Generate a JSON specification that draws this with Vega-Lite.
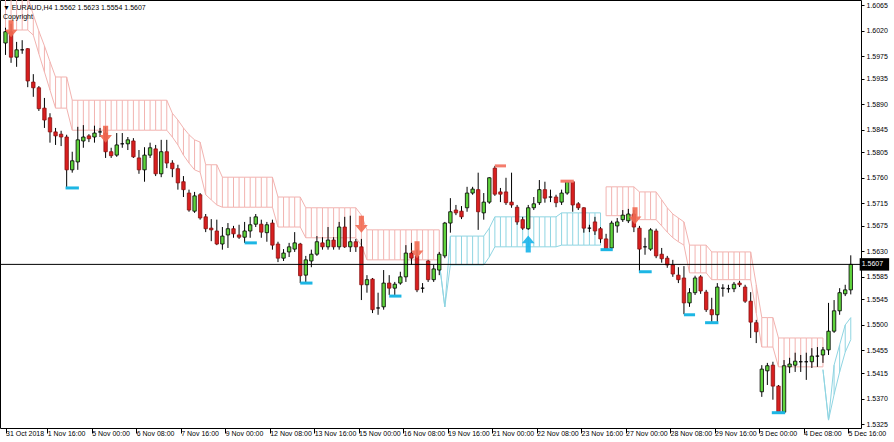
{
"$schema": "https://vega.github.io/schema/vega-lite/v6.json",
"width": 861, "height": 428,
"autosize": "none",
"padding": {"left": 0, "top": 0, "right": 33, "bottom": 14},
"background": "white",
"title": {"text": "▼ EURAUD,H4  1.5562 1.5623 1.5554 1.5607", "subtitle": "Copyright", "anchor": "start", "frame": "group", "offset": -20, "dx": 3, "font": "Liberation Sans", "fontSize": 7, "fontWeight": "normal", "color": "#000000", "subtitleFont": "Liberation Sans", "subtitleFontSize": 7, "subtitleColor": "#000000", "subtitlePadding": 2},
"config": {
  "view": {"stroke": "#000000", "strokeWidth": 1},
  "axis": {"labelFont": "Liberation Sans", "labelFontSize": 7, "labelColor": "#000000", "tickColor": "#000000", "domain": false, "grid": false, "labelOverlap": false, "labelFlush": false}
},
"datasets": {
"candles": [
{"i":0,"open":1.5998,"high":1.6025,"low":1.5977,"close":1.6018},
{"i":1,"open":1.6018,"high":1.6032,"low":1.5963,"close":1.5973},
{"i":2,"open":1.5973,"high":1.6000,"low":1.5956,"close":1.5986},
{"i":3,"open":1.5986,"high":1.6003,"low":1.5979,"close":1.5986},
{"i":4,"open":1.5988,"high":1.5989,"low":1.5920,"close":1.5931},
{"i":5,"open":1.5929,"high":1.5943,"low":1.5903,"close":1.5919},
{"i":6,"open":1.5919,"high":1.5922,"low":1.5878,"close":1.5882},
{"i":7,"open":1.5883,"high":1.5901,"low":1.5848,"close":1.5862},
{"i":8,"open":1.5866,"high":1.5874,"low":1.5822,"close":1.5841},
{"i":9,"open":1.5841,"high":1.5848,"low":1.5818,"close":1.5834},
{"i":10,"open":1.5837,"high":1.5843,"low":1.5816,"close":1.5832},
{"i":11,"open":1.5832,"high":1.5836,"low":1.5742,"close":1.5774},
{"i":12,"open":1.5774,"high":1.5806,"low":1.5769,"close":1.5790},
{"i":13,"open":1.5788,"high":1.5850,"low":1.5774,"close":1.5827},
{"i":14,"open":1.5825,"high":1.5853,"low":1.5813,"close":1.5832},
{"i":15,"open":1.5834,"high":1.5837,"low":1.5823,"close":1.5829},
{"i":16,"open":1.5832,"high":1.5852,"low":1.5822,"close":1.5839},
{"i":17,"open":1.5841,"high":1.5848,"low":1.5832,"close":1.5841},
{"i":18,"open":1.5839,"high":1.5850,"low":1.5795,"close":1.5806},
{"i":19,"open":1.5806,"high":1.5813,"low":1.5795,"close":1.5799},
{"i":20,"open":1.5800,"high":1.5839,"low":1.5797,"close":1.5818},
{"i":21,"open":1.5820,"high":1.5839,"low":1.5813,"close":1.5820},
{"i":22,"open":1.5820,"high":1.5832,"low":1.5809,"close":1.5827},
{"i":23,"open":1.5825,"high":1.5830,"low":1.5795,"close":1.5797},
{"i":24,"open":1.5795,"high":1.5809,"low":1.5767,"close":1.5774},
{"i":25,"open":1.5774,"high":1.5814,"low":1.5753,"close":1.5800},
{"i":26,"open":1.5800,"high":1.5822,"low":1.5795,"close":1.5813},
{"i":27,"open":1.5811,"high":1.5818,"low":1.5763,"close":1.5767},
{"i":28,"open":1.5767,"high":1.5827,"low":1.5761,"close":1.5806},
{"i":29,"open":1.5806,"high":1.5827,"low":1.5777,"close":1.5786},
{"i":30,"open":1.5786,"high":1.5791,"low":1.5761,"close":1.5776},
{"i":31,"open":1.5776,"high":1.5783,"low":1.5739,"close":1.5751},
{"i":32,"open":1.5753,"high":1.5763,"low":1.5726,"close":1.5739},
{"i":33,"open":1.5733,"high":1.5739,"low":1.5700,"close":1.5703},
{"i":34,"open":1.5701,"high":1.5735,"low":1.5698,"close":1.5728},
{"i":35,"open":1.5730,"high":1.5733,"low":1.5686,"close":1.5689},
{"i":36,"open":1.5691,"high":1.5696,"low":1.5664,"close":1.5670},
{"i":37,"open":1.5671,"high":1.5687,"low":1.5648,"close":1.5668},
{"i":38,"open":1.5666,"high":1.5686,"low":1.5641,"close":1.5643},
{"i":39,"open":1.5643,"high":1.5673,"low":1.5633,"close":1.5657},
{"i":40,"open":1.5659,"high":1.5680,"low":1.5636,"close":1.5670},
{"i":41,"open":1.5670,"high":1.5675,"low":1.5654,"close":1.5661},
{"i":42,"open":1.5659,"high":1.5677,"low":1.5652,"close":1.5655},
{"i":43,"open":1.5655,"high":1.5682,"low":1.5645,"close":1.5666},
{"i":44,"open":1.5666,"high":1.5691,"low":1.5654,"close":1.5677},
{"i":45,"open":1.5678,"high":1.5696,"low":1.5673,"close":1.5691},
{"i":46,"open":1.5678,"high":1.5686,"low":1.5654,"close":1.5664},
{"i":47,"open":1.5663,"high":1.5682,"low":1.5647,"close":1.5677},
{"i":48,"open":1.5680,"high":1.5686,"low":1.5633,"close":1.5641},
{"i":49,"open":1.5643,"high":1.5647,"low":1.5611,"close":1.5618},
{"i":50,"open":1.5618,"high":1.5634,"low":1.5613,"close":1.5627},
{"i":51,"open":1.5629,"high":1.5645,"low":1.5620,"close":1.5638},
{"i":52,"open":1.5634,"high":1.5664,"low":1.5629,"close":1.5645},
{"i":53,"open":1.5643,"high":1.5645,"low":1.5574,"close":1.5587},
{"i":54,"open":1.5588,"high":1.5622,"low":1.5574,"close":1.5615},
{"i":55,"open":1.5613,"high":1.5633,"low":1.5602,"close":1.5625},
{"i":56,"open":1.5625,"high":1.5657,"low":1.5622,"close":1.5647},
{"i":57,"open":1.5645,"high":1.5655,"low":1.5633,"close":1.5638},
{"i":58,"open":1.5638,"high":1.5673,"low":1.5633,"close":1.5650},
{"i":59,"open":1.5650,"high":1.5655,"low":1.5633,"close":1.5638},
{"i":60,"open":1.5638,"high":1.5682,"low":1.5633,"close":1.5673},
{"i":61,"open":1.5673,"high":1.5691,"low":1.5636,"close":1.5638},
{"i":62,"open":1.5638,"high":1.5693,"low":1.5629,"close":1.5647},
{"i":63,"open":1.5647,"high":1.5652,"low":1.5629,"close":1.5638},
{"i":64,"open":1.5638,"high":1.5652,"low":1.5544,"close":1.5571},
{"i":65,"open":1.5571,"high":1.5588,"low":1.5557,"close":1.5580},
{"i":66,"open":1.5581,"high":1.5583,"low":1.5521,"close":1.5527},
{"i":67,"open":1.5530,"high":1.5557,"low":1.5518,"close":1.5530},
{"i":68,"open":1.5532,"high":1.5597,"low":1.5527,"close":1.5574},
{"i":69,"open":1.5574,"high":1.5588,"low":1.5553,"close":1.5565},
{"i":70,"open":1.5565,"high":1.5576,"low":1.5553,"close":1.5572},
{"i":71,"open":1.5574,"high":1.5594,"low":1.5571,"close":1.5585},
{"i":72,"open":1.5585,"high":1.5641,"low":1.5576,"close":1.5627},
{"i":73,"open":1.5627,"high":1.5645,"low":1.5606,"close":1.5618},
{"i":74,"open":1.5622,"high":1.5633,"low":1.5558,"close":1.5562},
{"i":75,"open":1.5565,"high":1.5574,"low":1.5557,"close":1.5565},
{"i":76,"open":1.5613,"high":1.5615,"low":1.5576,"close":1.5580},
{"i":77,"open":1.5580,"high":1.5606,"low":1.5576,"close":1.5599},
{"i":78,"open":1.5597,"high":1.5629,"low":1.5588,"close":1.5625},
{"i":79,"open":1.5622,"high":1.5682,"low":1.5618,"close":1.5680},
{"i":80,"open":1.5680,"high":1.5724,"low":1.5663,"close":1.5700},
{"i":81,"open":1.5703,"high":1.5712,"low":1.5694,"close":1.5698},
{"i":82,"open":1.5701,"high":1.5710,"low":1.5687,"close":1.5691},
{"i":83,"open":1.5707,"high":1.5744,"low":1.5700,"close":1.5733},
{"i":84,"open":1.5733,"high":1.5744,"low":1.5730,"close":1.5740},
{"i":85,"open":1.5739,"high":1.5769,"low":1.5668,"close":1.5700},
{"i":86,"open":1.5698,"high":1.5733,"low":1.5686,"close":1.5717},
{"i":87,"open":1.5717,"high":1.5761,"low":1.5714,"close":1.5760},
{"i":88,"open":1.5777,"high":1.5781,"low":1.5728,"close":1.5731},
{"i":89,"open":1.5735,"high":1.5742,"low":1.5717,"close":1.5731},
{"i":90,"open":1.5735,"high":1.5760,"low":1.5712,"close":1.5716},
{"i":91,"open":1.5717,"high":1.5769,"low":1.5707,"close":1.5712},
{"i":92,"open":1.5708,"high":1.5712,"low":1.5677,"close":1.5682},
{"i":93,"open":1.5686,"high":1.5691,"low":1.5668,"close":1.5671},
{"i":94,"open":1.5670,"high":1.5712,"low":1.5668,"close":1.5707},
{"i":95,"open":1.5707,"high":1.5726,"low":1.5703,"close":1.5714},
{"i":96,"open":1.5716,"high":1.5756,"low":1.5712,"close":1.5739},
{"i":97,"open":1.5739,"high":1.5753,"low":1.5716,"close":1.5724},
{"i":98,"open":1.5726,"high":1.5739,"low":1.5717,"close":1.5726},
{"i":99,"open":1.5726,"high":1.5730,"low":1.5708,"close":1.5716},
{"i":100,"open":1.5717,"high":1.5739,"low":1.5712,"close":1.5733},
{"i":101,"open":1.5733,"high":1.5756,"low":1.5730,"close":1.5753},
{"i":102,"open":1.5753,"high":1.5754,"low":1.5700,"close":1.5712},
{"i":103,"open":1.5714,"high":1.5717,"low":1.5703,"close":1.5707},
{"i":104,"open":1.5707,"high":1.5708,"low":1.5663,"close":1.5671},
{"i":105,"open":1.5671,"high":1.5677,"low":1.5664,"close":1.5671},
{"i":106,"open":1.5682,"high":1.5691,"low":1.5659,"close":1.5666},
{"i":107,"open":1.5670,"high":1.5673,"low":1.5645,"close":1.5652},
{"i":108,"open":1.5652,"high":1.5661,"low":1.5633,"close":1.5634},
{"i":109,"open":1.5636,"high":1.5684,"low":1.5633,"close":1.5680},
{"i":110,"open":1.5675,"high":1.5689,"low":1.5663,"close":1.5682},
{"i":111,"open":1.5686,"high":1.5703,"low":1.5682,"close":1.5694},
{"i":112,"open":1.5684,"high":1.5705,"low":1.5680,"close":1.5696},
{"i":113,"open":1.5696,"high":1.5703,"low":1.5664,"close":1.5673},
{"i":114,"open":1.5671,"high":1.5675,"low":1.5595,"close":1.5634},
{"i":115,"open":1.5638,"high":1.5654,"low":1.5624,"close":1.5638},
{"i":116,"open":1.5634,"high":1.5671,"low":1.5631,"close":1.5668},
{"i":117,"open":1.5666,"high":1.5670,"low":1.5618,"close":1.5622},
{"i":118,"open":1.5625,"high":1.5636,"low":1.5610,"close":1.5617},
{"i":119,"open":1.5618,"high":1.5622,"low":1.5601,"close":1.5606},
{"i":120,"open":1.5606,"high":1.5615,"low":1.5585,"close":1.5590},
{"i":121,"open":1.5588,"high":1.5602,"low":1.5574,"close":1.5580},
{"i":122,"open":1.5583,"high":1.5604,"low":1.5519,"close":1.5539},
{"i":123,"open":1.5539,"high":1.5565,"low":1.5532,"close":1.5557},
{"i":124,"open":1.5557,"high":1.5587,"low":1.5553,"close":1.5583},
{"i":125,"open":1.5585,"high":1.5588,"low":1.5555,"close":1.5560},
{"i":126,"open":1.5558,"high":1.5562,"low":1.5523,"close":1.5527},
{"i":127,"open":1.5527,"high":1.5548,"low":1.5505,"close":1.5518},
{"i":128,"open":1.5518,"high":1.5574,"low":1.5505,"close":1.5567},
{"i":129,"open":1.5565,"high":1.5572,"low":1.5550,"close":1.5565},
{"i":130,"open":1.5564,"high":1.5571,"low":1.5557,"close":1.5564},
{"i":131,"open":1.5564,"high":1.5576,"low":1.5558,"close":1.5572},
{"i":132,"open":1.5574,"high":1.5578,"low":1.5567,"close":1.5571},
{"i":133,"open":1.5567,"high":1.5571,"low":1.5539,"close":1.5542},
{"i":134,"open":1.5542,"high":1.5558,"low":1.5477,"close":1.5505},
{"i":135,"open":1.5504,"high":1.5509,"low":1.5468,"close":1.5488},
{"i":136,"open":1.5382,"high":1.5429,"low":1.5373,"close":1.5422},
{"i":137,"open":1.5419,"high":1.5433,"low":1.5394,"close":1.5428},
{"i":138,"open":1.5429,"high":1.5435,"low":1.5368,"close":1.5392},
{"i":139,"open":1.5392,"high":1.5394,"low":1.5345,"close":1.5346},
{"i":140,"open":1.5346,"high":1.5438,"low":1.5345,"close":1.5428},
{"i":141,"open":1.5426,"high":1.5442,"low":1.5415,"close":1.5431},
{"i":142,"open":1.5429,"high":1.5451,"low":1.5417,"close":1.5436},
{"i":143,"open":1.5435,"high":1.5447,"low":1.5417,"close":1.5435},
{"i":144,"open":1.5435,"high":1.5451,"low":1.5403,"close":1.5435},
{"i":145,"open":1.5435,"high":1.5459,"low":1.5424,"close":1.5445},
{"i":146,"open":1.5445,"high":1.5461,"low":1.5426,"close":1.5445},
{"i":147,"open":1.5447,"high":1.5461,"low":1.5433,"close":1.5456},
{"i":148,"open":1.5456,"high":1.5539,"low":1.5447,"close":1.5489},
{"i":149,"open":1.5489,"high":1.5544,"low":1.5486,"close":1.5525},
{"i":150,"open":1.5525,"high":1.5565,"low":1.5518,"close":1.5557},
{"i":151,"open":1.5555,"high":1.5571,"low":1.5551,"close":1.5562},
{"i":152,"open":1.5562,"high":1.5623,"low":1.5554,"close":1.5607}
],
"bands": [
{"i":0,"top":1.6079,"bot":1.6021,"band":"r","seg":"r1"},
{"i":1,"top":1.6079,"bot":1.6021,"band":"r","seg":"r1"},
{"i":2,"top":1.6079,"bot":1.6021,"band":"r","seg":"r1"},
{"i":3,"top":1.6079,"bot":1.6021,"band":"r","seg":"r1"},
{"i":4,"top":1.6079,"bot":1.6021,"band":"r","seg":"r1"},
{"i":5,"top":1.6048,"bot":1.6012,"band":"r","seg":"r1"},
{"i":6,"top":1.6019,"bot":1.5979,"band":"r","seg":"r1"},
{"i":7,"top":1.5993,"bot":1.5947,"band":"r","seg":"r1"},
{"i":8,"top":1.5965,"bot":1.5915,"band":"r","seg":"r1"},
{"i":9,"top":1.5938,"bot":1.5883,"band":"r","seg":"r1"},
{"i":10,"top":1.5938,"bot":1.5883,"band":"r","seg":"r1"},
{"i":11,"top":1.5938,"bot":1.5883,"band":"r","seg":"r1"},
{"i":12,"top":1.5897,"bot":1.5844,"band":"r","seg":"r1"},
{"i":13,"top":1.5897,"bot":1.5844,"band":"r","seg":"r1"},
{"i":14,"top":1.5897,"bot":1.5844,"band":"r","seg":"r1"},
{"i":15,"top":1.5897,"bot":1.5844,"band":"r","seg":"r1"},
{"i":16,"top":1.5897,"bot":1.5844,"band":"r","seg":"r1"},
{"i":17,"top":1.5897,"bot":1.5844,"band":"r","seg":"r1"},
{"i":18,"top":1.5897,"bot":1.5844,"band":"r","seg":"r1"},
{"i":19,"top":1.5897,"bot":1.5844,"band":"r","seg":"r1"},
{"i":20,"top":1.5897,"bot":1.5844,"band":"r","seg":"r1"},
{"i":21,"top":1.5897,"bot":1.5844,"band":"r","seg":"r1"},
{"i":22,"top":1.5897,"bot":1.5844,"band":"r","seg":"r1"},
{"i":23,"top":1.5897,"bot":1.5844,"band":"r","seg":"r1"},
{"i":24,"top":1.5897,"bot":1.5844,"band":"r","seg":"r1"},
{"i":25,"top":1.5897,"bot":1.5844,"band":"r","seg":"r1"},
{"i":26,"top":1.5897,"bot":1.5844,"band":"r","seg":"r1"},
{"i":27,"top":1.5897,"bot":1.5844,"band":"r","seg":"r1"},
{"i":28,"top":1.5897,"bot":1.5844,"band":"r","seg":"r1"},
{"i":29,"top":1.5897,"bot":1.5844,"band":"r","seg":"r1"},
{"i":30,"top":1.5874,"bot":1.5832,"band":"r","seg":"r1"},
{"i":31,"top":1.5862,"bot":1.5818,"band":"r","seg":"r1"},
{"i":32,"top":1.5848,"bot":1.5800,"band":"r","seg":"r1"},
{"i":33,"top":1.5836,"bot":1.5786,"band":"r","seg":"r1"},
{"i":34,"top":1.5827,"bot":1.5774,"band":"r","seg":"r1"},
{"i":35,"top":1.5823,"bot":1.5770,"band":"r","seg":"r1"},
{"i":36,"top":1.5783,"bot":1.5730,"band":"r","seg":"r1"},
{"i":37,"top":1.5783,"bot":1.5721,"band":"r","seg":"r1"},
{"i":38,"top":1.5783,"bot":1.5712,"band":"r","seg":"r1"},
{"i":39,"top":1.5761,"bot":1.5708,"band":"r","seg":"r1"},
{"i":40,"top":1.5761,"bot":1.5708,"band":"r","seg":"r1"},
{"i":41,"top":1.5761,"bot":1.5708,"band":"r","seg":"r1"},
{"i":42,"top":1.5761,"bot":1.5708,"band":"r","seg":"r1"},
{"i":43,"top":1.5761,"bot":1.5708,"band":"r","seg":"r1"},
{"i":44,"top":1.5761,"bot":1.5708,"band":"r","seg":"r1"},
{"i":45,"top":1.5761,"bot":1.5708,"band":"r","seg":"r1"},
{"i":46,"top":1.5761,"bot":1.5708,"band":"r","seg":"r1"},
{"i":47,"top":1.5761,"bot":1.5708,"band":"r","seg":"r1"},
{"i":48,"top":1.5761,"bot":1.5708,"band":"r","seg":"r1"},
{"i":49,"top":1.5726,"bot":1.5673,"band":"r","seg":"r1"},
{"i":50,"top":1.5726,"bot":1.5673,"band":"r","seg":"r1"},
{"i":51,"top":1.5726,"bot":1.5673,"band":"r","seg":"r1"},
{"i":52,"top":1.5726,"bot":1.5673,"band":"r","seg":"r1"},
{"i":53,"top":1.5726,"bot":1.5673,"band":"r","seg":"r1"},
{"i":54,"top":1.5707,"bot":1.5654,"band":"r","seg":"r1"},
{"i":55,"top":1.5707,"bot":1.5654,"band":"r","seg":"r1"},
{"i":56,"top":1.5707,"bot":1.5654,"band":"r","seg":"r1"},
{"i":57,"top":1.5707,"bot":1.5654,"band":"r","seg":"r1"},
{"i":58,"top":1.5707,"bot":1.5654,"band":"r","seg":"r1"},
{"i":59,"top":1.5707,"bot":1.5654,"band":"r","seg":"r1"},
{"i":60,"top":1.5707,"bot":1.5654,"band":"r","seg":"r1"},
{"i":61,"top":1.5707,"bot":1.5654,"band":"r","seg":"r1"},
{"i":62,"top":1.5707,"bot":1.5654,"band":"r","seg":"r1"},
{"i":63,"top":1.5707,"bot":1.5654,"band":"r","seg":"r1"},
{"i":64,"top":1.5694,"bot":1.5641,"band":"r","seg":"r1"},
{"i":65,"top":1.5668,"bot":1.5615,"band":"r","seg":"r1"},
{"i":66,"top":1.5668,"bot":1.5615,"band":"r","seg":"r1"},
{"i":67,"top":1.5668,"bot":1.5615,"band":"r","seg":"r1"},
{"i":68,"top":1.5668,"bot":1.5615,"band":"r","seg":"r1"},
{"i":69,"top":1.5668,"bot":1.5615,"band":"r","seg":"r1"},
{"i":70,"top":1.5668,"bot":1.5615,"band":"r","seg":"r1"},
{"i":71,"top":1.5668,"bot":1.5615,"band":"r","seg":"r1"},
{"i":72,"top":1.5668,"bot":1.5615,"band":"r","seg":"r1"},
{"i":73,"top":1.5668,"bot":1.5615,"band":"r","seg":"r1"},
{"i":74,"top":1.5668,"bot":1.5615,"band":"r","seg":"r1"},
{"i":75,"top":1.5668,"bot":1.5615,"band":"r","seg":"r1"},
{"i":76,"top":1.5668,"bot":1.5615,"band":"r","seg":"r1"},
{"i":77,"top":1.5668,"bot":1.5615,"band":"r","seg":"r1"},
{"i":78,"top":1.5668,"bot":1.5615,"band":"r","seg":"r1"},
{"i":78,"top":1.5611,"bot":1.5611,"band":"b","seg":"b1"},
{"i":79,"top":1.5532,"bot":1.5532,"band":"b","seg":"b1"},
{"i":80,"top":1.5657,"bot":1.5606,"band":"b","seg":"b1"},
{"i":81,"top":1.5657,"bot":1.5606,"band":"b","seg":"b1"},
{"i":82,"top":1.5657,"bot":1.5606,"band":"b","seg":"b1"},
{"i":83,"top":1.5657,"bot":1.5606,"band":"b","seg":"b1"},
{"i":84,"top":1.5657,"bot":1.5606,"band":"b","seg":"b1"},
{"i":85,"top":1.5657,"bot":1.5606,"band":"b","seg":"b1"},
{"i":86,"top":1.5657,"bot":1.5606,"band":"b","seg":"b1"},
{"i":87,"top":1.5671,"bot":1.5620,"band":"b","seg":"b1"},
{"i":88,"top":1.5691,"bot":1.5638,"band":"b","seg":"b1"},
{"i":89,"top":1.5691,"bot":1.5638,"band":"b","seg":"b1"},
{"i":90,"top":1.5691,"bot":1.5638,"band":"b","seg":"b1"},
{"i":91,"top":1.5691,"bot":1.5638,"band":"b","seg":"b1"},
{"i":92,"top":1.5691,"bot":1.5638,"band":"b","seg":"b1"},
{"i":93,"top":1.5691,"bot":1.5638,"band":"b","seg":"b1"},
{"i":94,"top":1.5691,"bot":1.5638,"band":"b","seg":"b1"},
{"i":95,"top":1.5691,"bot":1.5638,"band":"b","seg":"b1"},
{"i":96,"top":1.5691,"bot":1.5638,"band":"b","seg":"b1"},
{"i":97,"top":1.5691,"bot":1.5638,"band":"b","seg":"b1"},
{"i":98,"top":1.5691,"bot":1.5638,"band":"b","seg":"b1"},
{"i":99,"top":1.5691,"bot":1.5638,"band":"b","seg":"b1"},
{"i":100,"top":1.5698,"bot":1.5641,"band":"b","seg":"b1"},
{"i":101,"top":1.5698,"bot":1.5641,"band":"b","seg":"b1"},
{"i":102,"top":1.5698,"bot":1.5641,"band":"b","seg":"b1"},
{"i":103,"top":1.5698,"bot":1.5641,"band":"b","seg":"b1"},
{"i":104,"top":1.5698,"bot":1.5641,"band":"b","seg":"b1"},
{"i":105,"top":1.5698,"bot":1.5641,"band":"b","seg":"b1"},
{"i":106,"top":1.5698,"bot":1.5641,"band":"b","seg":"b1"},
{"i":107,"top":1.5698,"bot":1.5641,"band":"b","seg":"b1"},
{"i":108,"top":1.5744,"bot":1.5693,"band":"r","seg":"r2"},
{"i":109,"top":1.5744,"bot":1.5693,"band":"r","seg":"r2"},
{"i":110,"top":1.5744,"bot":1.5693,"band":"r","seg":"r2"},
{"i":111,"top":1.5744,"bot":1.5693,"band":"r","seg":"r2"},
{"i":112,"top":1.5744,"bot":1.5693,"band":"r","seg":"r2"},
{"i":113,"top":1.5744,"bot":1.5693,"band":"r","seg":"r2"},
{"i":114,"top":1.5735,"bot":1.5686,"band":"r","seg":"r2"},
{"i":115,"top":1.5735,"bot":1.5686,"band":"r","seg":"r2"},
{"i":116,"top":1.5735,"bot":1.5686,"band":"r","seg":"r2"},
{"i":117,"top":1.5735,"bot":1.5686,"band":"r","seg":"r2"},
{"i":118,"top":1.5721,"bot":1.5675,"band":"r","seg":"r2"},
{"i":119,"top":1.5707,"bot":1.5664,"band":"r","seg":"r2"},
{"i":120,"top":1.5696,"bot":1.5654,"band":"r","seg":"r2"},
{"i":121,"top":1.5689,"bot":1.5647,"band":"r","seg":"r2"},
{"i":122,"top":1.5682,"bot":1.5641,"band":"r","seg":"r2"},
{"i":123,"top":1.5641,"bot":1.5592,"band":"r","seg":"r2"},
{"i":124,"top":1.5641,"bot":1.5592,"band":"r","seg":"r2"},
{"i":125,"top":1.5641,"bot":1.5592,"band":"r","seg":"r2"},
{"i":126,"top":1.5641,"bot":1.5592,"band":"r","seg":"r2"},
{"i":127,"top":1.5629,"bot":1.5580,"band":"r","seg":"r2"},
{"i":128,"top":1.5629,"bot":1.5580,"band":"r","seg":"r2"},
{"i":129,"top":1.5629,"bot":1.5580,"band":"r","seg":"r2"},
{"i":130,"top":1.5629,"bot":1.5580,"band":"r","seg":"r2"},
{"i":131,"top":1.5629,"bot":1.5580,"band":"r","seg":"r2"},
{"i":132,"top":1.5629,"bot":1.5580,"band":"r","seg":"r2"},
{"i":133,"top":1.5629,"bot":1.5580,"band":"r","seg":"r2"},
{"i":134,"top":1.5629,"bot":1.5580,"band":"r","seg":"r2"},
{"i":135,"top":1.5571,"bot":1.5521,"band":"r","seg":"r2"},
{"i":136,"top":1.5513,"bot":1.5461,"band":"r","seg":"r2"},
{"i":137,"top":1.5513,"bot":1.5461,"band":"r","seg":"r2"},
{"i":138,"top":1.5513,"bot":1.5461,"band":"r","seg":"r2"},
{"i":139,"top":1.5477,"bot":1.5426,"band":"r","seg":"r2"},
{"i":140,"top":1.5477,"bot":1.5426,"band":"r","seg":"r2"},
{"i":141,"top":1.5477,"bot":1.5426,"band":"r","seg":"r2"},
{"i":142,"top":1.5477,"bot":1.5426,"band":"r","seg":"r2"},
{"i":143,"top":1.5477,"bot":1.5426,"band":"r","seg":"r2"},
{"i":144,"top":1.5477,"bot":1.5426,"band":"r","seg":"r2"},
{"i":145,"top":1.5477,"bot":1.5426,"band":"r","seg":"r2"},
{"i":146,"top":1.5477,"bot":1.5426,"band":"r","seg":"r2"},
{"i":147,"top":1.5477,"bot":1.5426,"band":"r","seg":"r2"},
{"i":147,"top":1.5421,"bot":1.5421,"band":"b","seg":"b2"},
{"i":148,"top":1.5332,"bot":1.5332,"band":"b","seg":"b2"},
{"i":149,"top":1.5429,"bot":1.5377,"band":"b","seg":"b2"},
{"i":150,"top":1.5465,"bot":1.5417,"band":"b","seg":"b2"},
{"i":151,"top":1.5500,"bot":1.5452,"band":"b","seg":"b2"},
{"i":152,"top":1.5513,"bot":1.5474,"band":"b","seg":"b2"}
],
"levels": [
{"i":10.8,"i2":13.2,"p":1.5742,"kind":"support"},
{"i":43,"i2":45.2,"p":1.5645,"kind":"support"},
{"i":53,"i2":55.2,"p":1.5574,"kind":"support"},
{"i":69,"i2":71.2,"p":1.5551,"kind":"support"},
{"i":107,"i2":109.2,"p":1.5633,"kind":"support"},
{"i":113.9,"i2":116.2,"p":1.5594,"kind":"support"},
{"i":122,"i2":124,"p":1.5518,"kind":"support"},
{"i":125.8,"i2":128.2,"p":1.5504,"kind":"support"},
{"i":137.8,"i2":140.2,"p":1.5345,"kind":"support"},
{"i":88,"i2":90,"p":1.5781,"kind":"resistance"},
{"i":99.8,"i2":102.2,"p":1.5754,"kind":"resistance"}
],
"arrows": [
{"i":1,"p":1.6023,"dir":"down"},
{"i":18,"p":1.5837,"dir":"down"},
{"i":64,"p":1.5678,"dir":"down"},
{"i":74,"p":1.5633,"dir":"down"},
{"i":113.2,"p":1.5693,"dir":"down"},
{"i":94,"p":1.5643,"dir":"up"}
]
},
"layer": [
{
 "data": {"name": "bands"},
 "mark": {"type": "rule", "strokeWidth": 1, "clip": true},
 "encoding": {
  "x": {"field": "i", "type": "quantitative", "scale": {"domain": [-0.09, 152.94], "nice": false, "zero": false},
   "axis": {"orient": "bottom", "title": null, "values": [0, 7.5, 15.5, 23.5, 31.5, 39.5, 47.5, 55.5, 63.5, 71.5, 79.5, 87.5, 95.5, 103.5, 111.5, 119.5, 127.5, 135.5, 143.5, 151.5], "tickCount": 40,
    "labelExpr": "['31 Oct 2018','1 Nov 16:00','5 Nov 00:00','6 Nov 08:00','7 Nov 16:00','9 Nov 00:00','12 Nov 08:00','13 Nov 16:00','15 Nov 00:00','16 Nov 08:00','19 Nov 16:00','21 Nov 00:00','22 Nov 08:00','23 Nov 16:00','27 Nov 00:00','28 Nov 08:00','29 Nov 16:00','3 Dec 00:00','4 Dec 08:00','5 Dec 16:00'][floor((datum.value + 1) / 8)]",
    "labelAlign": "left", "labelBaseline": "top", "labelDx": 2, "tickSize": 5, "labelPadding": -4, "labelOverlap": false, "labelBound": false, "labelFlush": false}},
  "y": {"field": "top", "type": "quantitative", "scale": {"domain": [1.5318, 1.6074], "nice": false, "zero": false},
   "axis": {"orient": "right", "title": null, "values": [1.6065, 1.6020, 1.5975, 1.5935, 1.5890, 1.5845, 1.5805, 1.5760, 1.5715, 1.5675, 1.5630, 1.5585, 1.5545, 1.5500, 1.5455, 1.5415, 1.5370, 1.5325], "tickCount": 40, "format": ".4f", "tickSize": 3, "labelPadding": 2, "labelOverlap": false, "labelFlush": false, "labelBound": false}},
  "y2": {"field": "bot"},
  "color": {"condition": {"test": "datum.band == 'r'", "value": "#f2b3b0"}, "value": "#8fd5e2"}
 }
},
{
 "data": {"name": "bands"},
 "mark": {"type": "line", "strokeWidth": 1, "clip": true},
 "encoding": {
  "x": {"field": "i", "type": "quantitative", "scale": {"domain": [-0.09, 152.94], "nice": false, "zero": false}},
  "y": {"field": "top", "type": "quantitative", "scale": {"domain": [1.5318, 1.6074], "nice": false, "zero": false}},
  "detail": {"field": "seg"},
  "color": {"condition": {"test": "datum.band == 'r'", "value": "#f2b3b0"}, "value": "#8fd5e2"}
 }
},
{
 "data": {"name": "bands"},
 "mark": {"type": "line", "strokeWidth": 1, "clip": true},
 "encoding": {
  "x": {"field": "i", "type": "quantitative", "scale": {"domain": [-0.09, 152.94], "nice": false, "zero": false}},
  "y": {"field": "bot", "type": "quantitative", "scale": {"domain": [1.5318, 1.6074], "nice": false, "zero": false}},
  "detail": {"field": "seg"},
  "color": {"condition": {"test": "datum.band == 'r'", "value": "#f2b3b0"}, "value": "#8fd5e2"}
 }
},
{
 "data": {"name": "candles"},
 "mark": {"type": "rule", "color": "#000000", "strokeWidth": 1},
 "encoding": {
  "x": {"field": "i", "type": "quantitative", "scale": {"domain": [-0.09, 152.94], "nice": false, "zero": false}},
  "y": {"field": "low", "type": "quantitative", "scale": {"domain": [1.5318, 1.6074], "nice": false, "zero": false}},
  "y2": {"field": "high"}
 }
},
{
 "data": {"name": "candles"},
 "mark": {"type": "bar", "size": 3.4, "strokeWidth": 0.8},
 "encoding": {
  "x": {"field": "i", "type": "quantitative", "scale": {"domain": [-0.09, 152.94], "nice": false, "zero": false}},
  "y": {"field": "open", "type": "quantitative", "scale": {"domain": [1.5318, 1.6074], "nice": false, "zero": false}},
  "y2": {"field": "close"},
  "fill": {"condition": {"test": "datum.close > datum.open", "value": "#5fd43c"}, "value": "#d81f1f"},
  "stroke": {"condition": {"test": "datum.close < datum.open", "value": "#8a1010"}, "value": "#000000"}
 }
},
{
 "data": {"values": [{"p": 1.5607}]},
 "mark": {"type": "rule", "color": "#000000", "strokeWidth": 1},
 "encoding": {
  "y": {"field": "p", "type": "quantitative", "scale": {"domain": [1.5318, 1.6074], "nice": false, "zero": false}}
 }
},
{
 "data": {"name": "levels"},
 "mark": {"type": "rule", "strokeWidth": 3, "strokeCap": "butt"},
 "encoding": {
  "x": {"field": "i", "type": "quantitative", "scale": {"domain": [-0.09, 152.94], "nice": false, "zero": false}},
  "x2": {"field": "i2"},
  "y": {"field": "p", "type": "quantitative", "scale": {"domain": [1.5318, 1.6074], "nice": false, "zero": false}},
  "color": {"condition": {"test": "datum.kind == 'support'", "value": "#1cb6e4"}, "value": "#f47c6c"}
 }
},
{
 "data": {"name": "arrows"},
 "mark": {"type": "point", "filled": true, "size": 289, "opacity": 0.9},
 "encoding": {
  "x": {"field": "i", "type": "quantitative", "scale": {"domain": [-0.09, 152.94], "nice": false, "zero": false}},
  "y": {"field": "p", "type": "quantitative", "scale": {"domain": [1.5318, 1.6074], "nice": false, "zero": false}},
  "shape": {"field": "dir", "type": "nominal", "scale": {"domain": ["down", "up"], "range": ["M-0.3,-1L0.3,-1L0.3,0.1L0.75,0.1L0,1L-0.75,0.1L-0.3,0.1Z", "M-0.3,1L0.3,1L0.3,-0.1L0.75,-0.1L0,-1L-0.75,-0.1L-0.3,-0.1Z"]}, "legend": null},
  "color": {"condition": {"test": "datum.dir == 'down'", "value": "#f26a52"}, "value": "#17b4ea"}
 }
},
{
 "data": {"values": [{"i": 153.6, "i2": 158.9, "p1": 1.5596, "p2": 1.5618, "p": 1.5607, "label": "1.5607"}]},
 "layer": [
  {
   "mark": {"type": "rect", "color": "#000000", "clip": false},
   "encoding": {
    "x": {"field": "i", "type": "quantitative", "scale": {"domain": [-0.09, 152.94], "nice": false, "zero": false}},
    "x2": {"field": "i2"},
    "y": {"field": "p1", "type": "quantitative", "scale": {"domain": [1.5318, 1.6074], "nice": false, "zero": false}},
    "y2": {"field": "p2"}
   }
  },
  {
   "mark": {"type": "text", "color": "#ffffff", "align": "left", "baseline": "middle", "dx": 2, "font": "Liberation Sans", "fontSize": 7, "clip": false},
   "encoding": {
    "x": {"field": "i", "type": "quantitative", "scale": {"domain": [-0.09, 152.94], "nice": false, "zero": false}},
    "y": {"field": "p", "type": "quantitative", "scale": {"domain": [1.5318, 1.6074], "nice": false, "zero": false}},
    "text": {"field": "label"}
   }
  }
 ]
}
]
}
